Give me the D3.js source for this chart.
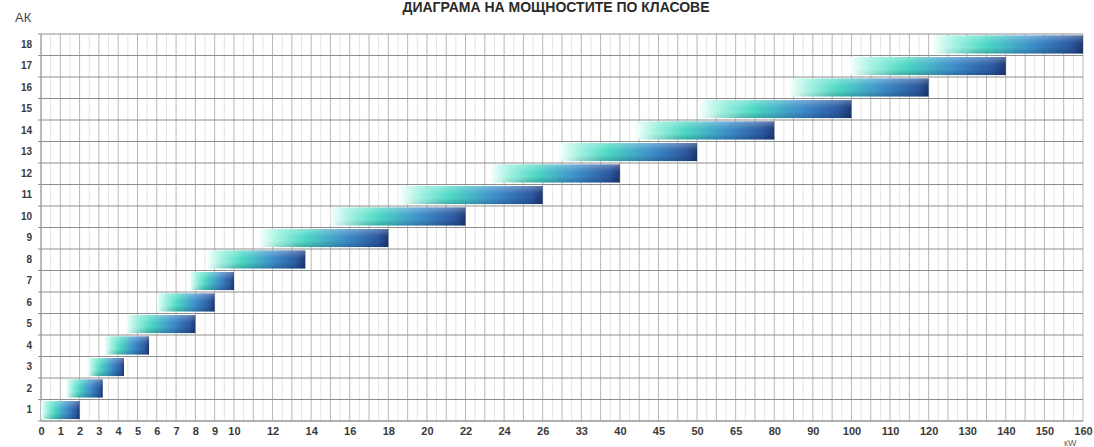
<!DOCTYPE html>
<html>
<head>
<meta charset="utf-8">
<script src="https://cdn.jsdelivr.net/npm/d3@7/dist/d3.min.js"></script>
<style>
  html, body { margin: 0; padding: 0; background: #fff; }
  svg { display: block; }
</style>
</head>
<body>
<div id="chart"></div>
<script>
// ---- data ----
const titleText = "ДИАГРАМА НА МОЩНОСТИТЕ ПО КЛАСОВЕ";
const yAxisLabel = "АК";
const xUnitLabel = "кW";
const levels = [1,2,3,4,5,6,7,8,9,10,11,12,13,14,15,16,17,18];
const rangeStart = [0, 1.3, 2.4, 3.3, 4.4, 6, 7.7, 8.6, 11.3, 15, 18.6, 23.3, 29, 42, 51, 84, 99.5, 121];
const rangeEnd   = [2, 3.2, 4.3, 5.6, 8, 9, 10, 13.7, 18, 22, 26, 40, 50, 80, 100, 120, 140, 160];
const xTicks = [0,1,2,3,4,5,6,7,8,9,10,12,14,16,18,20,22,24,26,33,40,45,50,65,80,90,100,110,120,130,140,150,160];

// ---- layout ----
const W = 1094, H = 447;
const pLeft = 41, pRight = 1083, pTop = 34, pBottom = 421;
const svg = d3.select("#chart").append("svg").attr("width", W).attr("height", H);

// tick slot positions: unit spacing up to 10, double spacing after
const slots = xTicks.map((v, i) => i <= 10 ? i : 10 + 2 * (i - 10));
const nSlots = slots[slots.length - 1];
const slotX = s => pLeft + (pRight - pLeft) * s / nSlots;
const x = d3.scaleLinear().domain(xTicks).range(slots.map(slotX));
const y = d3.scaleBand().domain(levels).range([pBottom, pTop]).padding(0);

// ---- gradients ----
const defs = svg.append("defs");
const g1 = defs.append("linearGradient").attr("id", "barGrad")
  .attr("x1", "0%").attr("x2", "100%").attr("y1", "0%").attr("y2", "0%");
[["0%", "#f8fffd"], ["15%", "#a2f2e2"], ["36%", "#4cd9c5"], ["66%", "#3e90cc"], ["92%", "#2b58a0"], ["100%", "#1c3873"]]
  .forEach(([o, c]) => g1.append("stop").attr("offset", o).attr("stop-color", c));
const g2 = defs.append("linearGradient").attr("id", "shade")
  .attr("x1", "0%").attr("x2", "0%").attr("y1", "0%").attr("y2", "100%");
[["0%", "#ffffff", 0.3], ["35%", "#ffffff", 0.05], ["65%", "#000000", 0.0], ["100%", "#001030", 0.22]]
  .forEach(([o, c, a]) => g2.append("stop").attr("offset", o).attr("stop-color", c).attr("stop-opacity", a));
// mask so the shading only affects the coloured part of the bar
const gm = defs.append("linearGradient").attr("id", "maskGrad")
  .attr("x1", "0%").attr("x2", "100%").attr("y1", "0%").attr("y2", "0%");
[["0%", 0], ["30%", 1], ["100%", 1]]
  .forEach(([o, a]) => gm.append("stop").attr("offset", o).attr("stop-color", "#fff").attr("stop-opacity", a));
defs.append("mask").attr("id", "shadeMask")
  .attr("maskContentUnits", "objectBoundingBox")
  .append("rect").attr("x", 0).attr("y", 0).attr("width", 1).attr("height", 1)
  .attr("fill", "url(#maskGrad)");

// ---- grid ----
const grid = svg.append("g");
const halfSlots = d3.range(0, nSlots, 1).map(s => s + 0.5);
grid.selectAll(".vminor").data(halfSlots).join("line")
  .attr("x1", slotX).attr("x2", slotX).attr("y1", pTop).attr("y2", pBottom)
  .attr("stroke", "#e4e4e4").attr("stroke-width", 1);
grid.selectAll(".vmajor").data(d3.range(0, nSlots + 1)).join("line")
  .attr("x1", slotX).attr("x2", slotX).attr("y1", pTop).attr("y2", pBottom)
  .attr("stroke", "#b8b8b8").attr("stroke-width", 1);
const rowEdges = levels.map(l => y(l)).concat([pBottom]);
grid.selectAll(".hmajor").data(rowEdges).join("line")
  .attr("x1", pLeft - 3).attr("x2", pRight).attr("y1", d => d).attr("y2", d => d)
  .attr("stroke", "#8e8e8e").attr("stroke-width", 1);
grid.append("line").attr("x1", pLeft).attr("x2", pRight).attr("y1", pBottom).attr("y2", pBottom)
  .attr("stroke", "#9a9a9a").attr("stroke-width", 1.2);
grid.append("line").attr("x1", pLeft).attr("x2", pLeft).attr("y1", pTop).attr("y2", pBottom)
  .attr("stroke", "#9a9a9a").attr("stroke-width", 1);

// ---- bars ----
const bw = y.bandwidth();
const bars = svg.append("g");
const barData = levels.map((l, i) => ({ l, s: rangeStart[i], e: rangeEnd[i] }));
bars.selectAll("rect.b").data(barData).join("rect")
  .attr("class", "b")
  .attr("x", d => x(d.s)).attr("width", d => x(d.e) - x(d.s))
  .attr("y", d => y(d.l) + bw * 0.07).attr("height", bw * 0.84)
  .attr("fill", "url(#barGrad)");
bars.selectAll("rect.s").data(barData).join("rect")
  .attr("class", "s")
  .attr("x", d => x(d.s)).attr("width", d => x(d.e) - x(d.s))
  .attr("y", d => y(d.l) + bw * 0.07).attr("height", bw * 0.84)
  .attr("fill", "url(#shade)").attr("mask", "url(#shadeMask)");

// ---- axes ----
const xAxis = svg.append("g").attr("transform", `translate(0,${pBottom + 3})`)
  .call(d3.axisBottom(x).tickValues(xTicks).tickSize(0).tickPadding(3));
xAxis.select(".domain").remove();
xAxis.selectAll("text").attr("font-family", "Liberation Sans, Arial, sans-serif")
  .attr("font-size", 11).attr("font-weight", "bold").attr("fill", "#3a3a3a");

const yAxis = svg.append("g").attr("transform", `translate(${pLeft - 5},0)`)
  .call(d3.axisLeft(y).tickSize(0).tickPadding(4));
yAxis.select(".domain").remove();
yAxis.selectAll("text").attr("font-family", "Liberation Sans, Arial, sans-serif")
  .attr("font-size", 10).attr("font-weight", "bold").attr("fill", "#3a3a3a");

// ---- labels ----
svg.append("text").attr("x", 15).attr("y", 22).text(yAxisLabel)
  .attr("font-family", "Liberation Sans, Arial, sans-serif").attr("font-size", 13)
  .attr("fill", "#444");
svg.append("text").attr("x", 1064).attr("y", 446).text(xUnitLabel)
  .attr("font-family", "Liberation Sans, Arial, sans-serif").attr("font-size", 9)
  .attr("fill", "#666");
svg.append("text").attr("x", 556).attr("y", 12).attr("text-anchor", "middle").text(titleText)
  .attr("font-family", "Liberation Sans, Arial, sans-serif").attr("font-size", 14)
  .attr("font-weight", "bold").attr("fill", "#2a2a2a");
</script>
</body>
</html>
